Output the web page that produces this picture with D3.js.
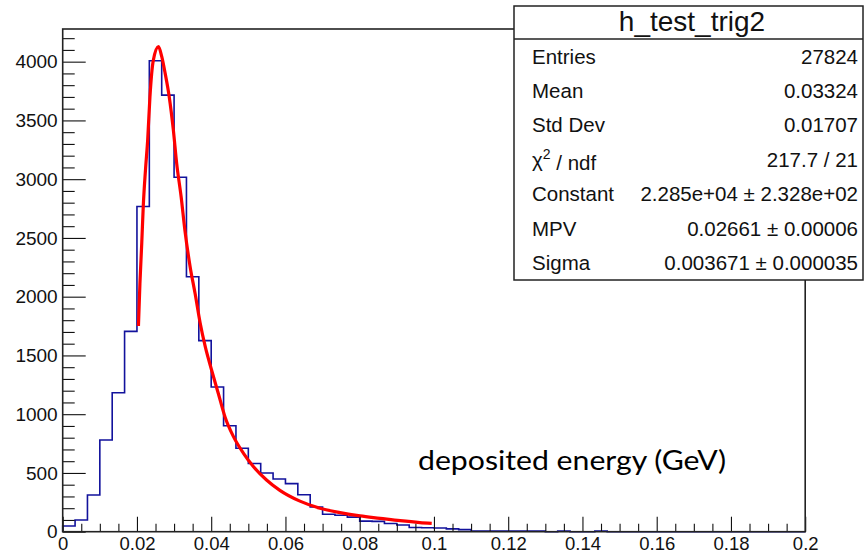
<!DOCTYPE html>
<html><head><meta charset="utf-8">
<script src="https://cdn.jsdelivr.net/npm/d3@7"></script>
<style>body{margin:0;background:#fff}svg{display:block}</style>
</head><body>
<svg id="c" width="864" height="554"></svg>
<script>
// ---- data ----
const xMin = 0, xMax = 0.2, nBins = 60;
const counts = [48,100,312,780,1183,1705,2768,4008,3715,3016,
                2170,1626,1232,902,710,580,500,449,409,314,
                210,148,140,124,90,88,70,57,36,34,
                31,24,18,6,6,6,6,6,6,0,
                6,0,0,6,0,0,0,0,0,0,
                0,0,0,0,0,0,0,0,0,0];
const fitX = [0.0204,0.0208,0.0213,0.0217,0.0223,0.0229,0.0235,0.0244,0.0258,0.0267,
              0.0276,0.0287,0.0298,0.0307,0.0319,0.0329,0.0343,0.0357,0.0370,0.0384,
              0.0401,0.0419,0.0437,0.0460,0.0487,0.0514,0.0549,0.0585,0.0639,0.0693,
              0.0747,0.0801,0.0855,0.0909,0.0962,0.0994];
const fitY = [1750,2110,2460,2770,3080,3340,3700,4010,4128,4040,
              3900,3700,3420,3135,2850,2570,2260,2020,1780,1574,
              1376,1178,979,809,667,553,440,352,260,199,
              162,134,114,94,78,71];
const xTicks = [0,0.02,0.04,0.06,0.08,0.1,0.12,0.14,0.16,0.18,0.2];
const xTickLabels = ["0","0.02","0.04","0.06","0.08","0.1","0.12","0.14","0.16","0.18","0.2"];
const xMinorStep = 0.005;
const yTicks = [0,500,1000,1500,2000,2500,3000,3500,4000];
const yTickLabels = ["0","500","1000","1500","2000","2500","3000","3500","4000"];
const yMinorStep = 100;
const yMax = 4278;
const histTitle = "h_test_trig2";
const statLabels = ["Entries","Mean","Std Dev","CHI","Constant","MPV","Sigma"];
const statValues = ["27824","0.03324","0.01707","217.7 / 21","2.285e+04 \u00b1 2.328e+02","0.02661 \u00b1 0.00006","0.003671 \u00b1 0.000035"];
const axisTitle = "deposited energy (GeV)";

// ---- layout ----
const L = 62.7, R = 805.2, T = 29, B = 531.7;
const svg = d3.select("#c");
const font = "'Liberation Sans', Arial, Helvetica, sans-serif";
const x = d3.scaleLinear().domain([xMin, xMax]).range([L, R]);
const y = d3.scaleLinear().domain([0, yMax]).range([B, T]);

// histogram
const bw = (xMax - xMin) / nBins;
const stepPts = [[xMin, 0]].concat(counts.map((c, i) => [xMin + i * bw, c]), [[xMax, counts[nBins - 1]], [xMax, 0]]);
svg.append("path")
  .attr("d", d3.line().x(d => x(d[0])).y(d => y(d[1])).curve(d3.curveStepAfter)(stepPts))
  .attr("fill", "none").attr("stroke", "#12129c").attr("stroke-width", 1.6);

// fit curve
svg.append("path")
  .attr("d", d3.line().x((d, i) => x(fitX[i])).y((d, i) => y(fitY[i])).curve(d3.curveMonotoneX)(fitX))
  .attr("fill", "none").attr("stroke", "#ff0000").attr("stroke-width", 3.2)
  .attr("stroke-linejoin", "round");

// axes
const xMinor = d3.range(xMin, xMax + 1e-9, xMinorStep).filter(v => !xTicks.some(t => Math.abs(t - v) < 1e-9));
const yMinor = d3.range(0, yMax, yMinorStep).filter(v => yTicks.indexOf(v) < 0);

const gx = svg.append("g").attr("transform", `translate(0,${B})`);
gx.append("g").call(d3.axisBottom(x).tickValues(xMinor).tickSize(-8).tickFormat(""));
gx.append("g").call(d3.axisBottom(x).tickValues(xTicks).tickSize(-15)
  .tickFormat((d, i) => xTickLabels[i]));
gx.selectAll(".domain").remove();
gx.selectAll("text").attr("y", 18.5).attr("dy", null)
  .attr("font-family", font).attr("font-size", 18.5).attr("fill", "#111");

const gy = svg.append("g").attr("transform", `translate(${L},0)`);
gy.append("g").call(d3.axisLeft(y).tickValues(yMinor).tickSize(-12).tickFormat(""));
gy.append("g").call(d3.axisLeft(y).tickValues(yTicks).tickSize(-23).tickPadding(5)
  .tickFormat((d, i) => yTickLabels[i]));
gy.selectAll(".domain").remove();
gy.selectAll("text").attr("font-family", font).attr("font-size", 19).attr("fill", "#111");
svg.selectAll(".tick line").attr("stroke", "#111").attr("stroke-width", 1.1);

// frame
svg.append("rect").attr("x", L).attr("y", T).attr("width", R - L).attr("height", B - T)
  .attr("fill", "none").attr("stroke", "#222").attr("stroke-width", 1.6);

// axis title
svg.append("text").attr("x", 418).attr("y", 470)
  .attr("font-family", "Lato, 'Open Sans', sans-serif").attr("font-size", 27)
  .attr("textLength", 308).attr("lengthAdjust", "spacingAndGlyphs")
  .attr("fill", "#000").text(axisTitle);

// stats box
const bx = 514, by = 6, bx2 = 863, by2 = 280, divY = 39;
svg.append("rect").attr("x", bx).attr("y", by).attr("width", bx2 - bx).attr("height", by2 - by)
  .attr("fill", "#fff").attr("stroke", "#222").attr("stroke-width", 1.5);
svg.append("line").attr("x1", bx).attr("x2", bx2).attr("y1", divY).attr("y2", divY)
  .attr("stroke", "#222").attr("stroke-width", 1.5);
svg.append("text").attr("x", 692).attr("y", 31).attr("text-anchor", "middle")
  .attr("font-family", font).attr("font-size", 28).attr("fill", "#111").text(histTitle);
const rowH = (by2 - divY) / statLabels.length;
statLabels.forEach((lab, i) => {
  const cy = divY + rowH * (i + 0.5);
  const t = svg.append("text").attr("x", 532).attr("y", cy).attr("dy", "0.36em")
    .attr("font-family", font).attr("font-size", 20.5).attr("fill", "#111");
  if (lab === "CHI") {
    t.append("tspan").text("\u03c7");
    t.append("tspan").attr("font-size", 14).attr("dy", "-0.55em").text("2");
    t.append("tspan").attr("dy", "0.55em").attr("font-size", 20.5).text(" / ndf");
  } else t.text(lab);
  svg.append("text").attr("x", 858).attr("y", cy).attr("dy", "0.36em").attr("text-anchor", "end")
    .attr("font-family", font).attr("font-size", 20.5).attr("fill", "#111").text(statValues[i]);
});
</script>
</body></html>
